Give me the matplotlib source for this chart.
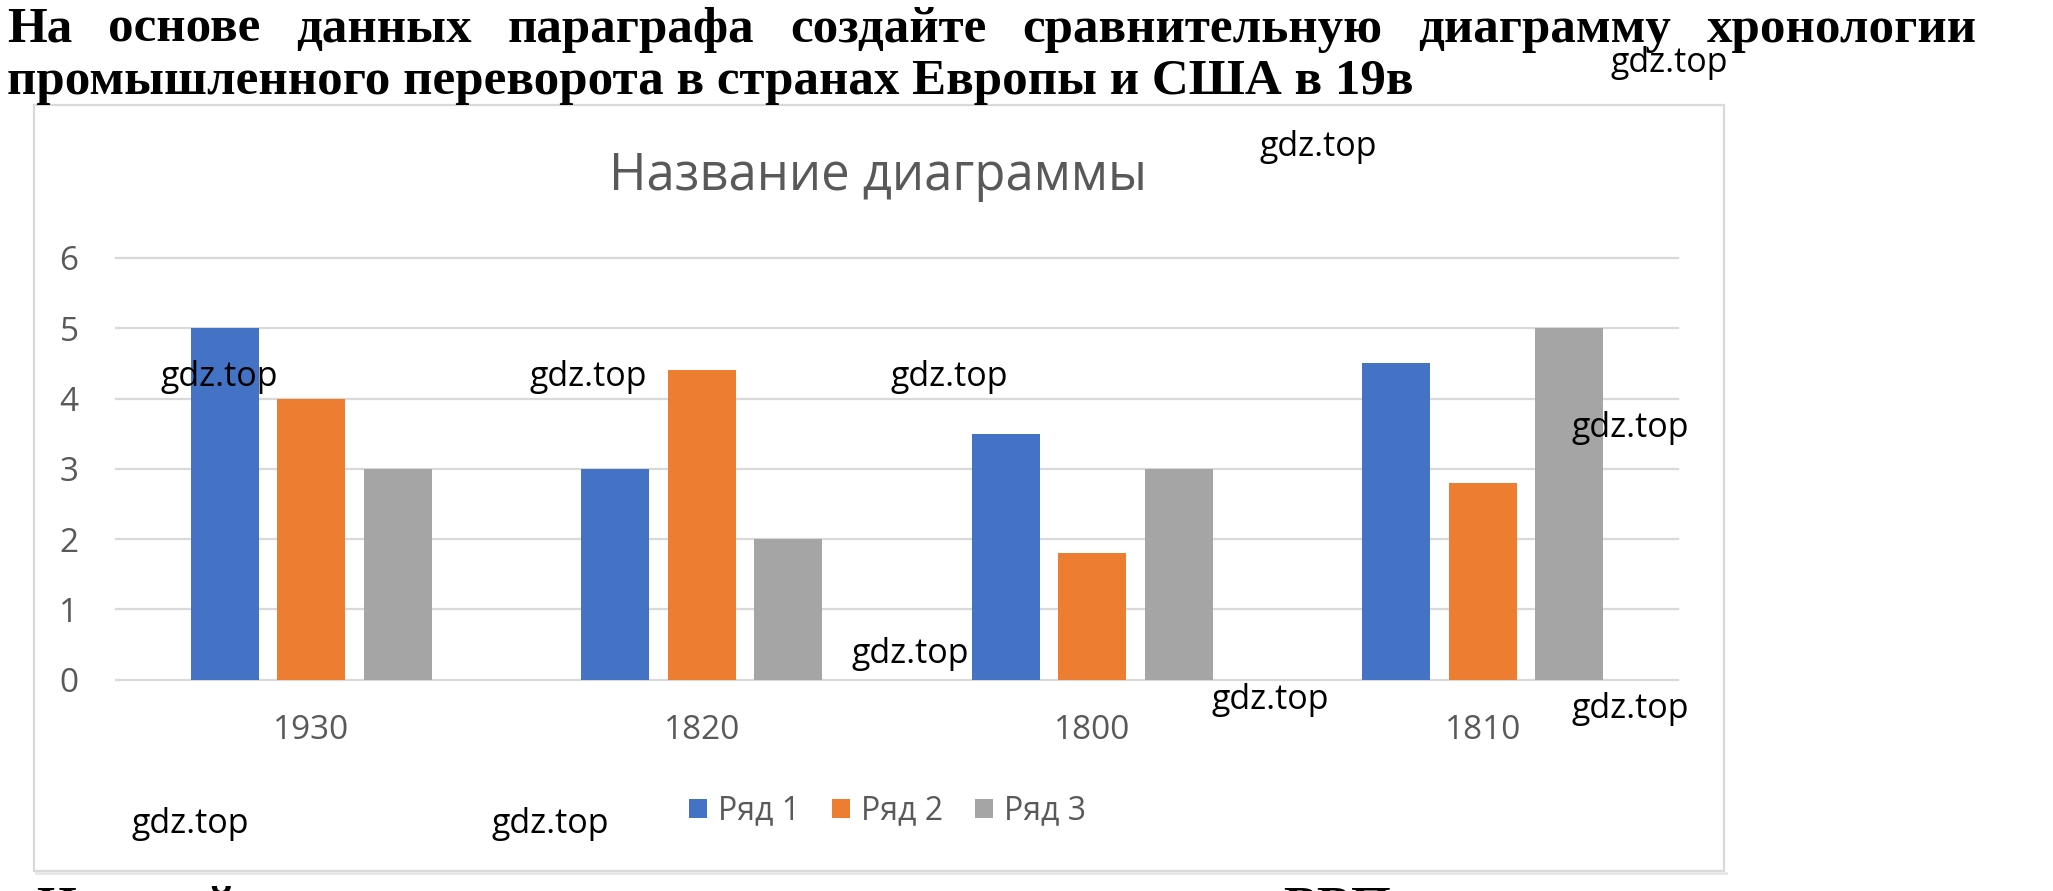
import numpy as np
import matplotlib
matplotlib.use('Agg')
import matplotlib.pyplot as plt
from matplotlib.patches import Rectangle, Patch
from matplotlib.lines import Line2D

# ---- data ----
categories = ['1930', '1820', '1800', '1810']
series_names = ['Ряд 1', 'Ряд 2', 'Ряд 3']
row1 = [5, 3, 3.5, 4.5]
row2 = [4, 4.4, 1.8, 2.8]
row3 = [3, 2, 3, 5]
yticks = [0, 1, 2, 3, 4, 5, 6]
chart_title = 'Название диаграммы'
header_line1 = 'На основе данных параграфа создайте сравнительную диаграмму хронологии'
header_line2 = 'промышленного переворота в странах Европы и США в 19в'
next_line_start = 'Нарисуйте'
next_line_end = 'ВВП'
watermark = 'gdz.top'

colors = ['#4472C4', '#ED7D31', '#A5A5A5']
GRAY = '#595959'
W, H = 2053, 891

fig = plt.figure(figsize=(W / 100, H / 100), dpi=100)
fig.patch.set_facecolor('white')


def fx(x):
    return x / W


def fy(y):
    return 1 - y / H


renderer = fig.canvas.get_renderer()
SERIF = ['Liberation Serif', 'DejaVu Serif']
SANS = ['Open Sans', 'DejaVu Sans']

# ---- header text ----
probe = fig.text(0, 0, header_line2, fontsize=38, family=SERIF, weight='bold')
w2 = probe.get_window_extent(renderer).width
probe.remove()
hsize = 38 * 1404 / w2

fig.text(fx(7), fy(94), header_line2, fontsize=hsize, family=SERIF,
         weight='bold', va='baseline', ha='left')

words = header_line1.split()
wtexts = [fig.text(0, fy(42), w, fontsize=hsize, family=SERIF, weight='bold',
                   va='baseline', ha='left') for w in words]
widths = [t.get_window_extent(renderer).width for t in wtexts]
x_left, x_right = 7, 1977
gap = (x_right - x_left - sum(widths)) / (len(words) - 1)
xpos = x_left
for t, wd in zip(wtexts, widths):
    t.set_x(fx(xpos))
    xpos += wd + gap

# ---- chart frame ----
fig.patches.append(Rectangle((fx(34), fy(871)), fx(1724) - fx(34), fy(105) - fy(871),
                             transform=fig.transFigure, fill=False,
                             edgecolor='#d9d9d9', lw=1.6, zorder=1))
fig.add_artist(Line2D([fx(36), fx(1726)], [fy(873), fy(873)], transform=fig.transFigure,
                      color='#e6e6e6', lw=2.0))

# ---- axes ----
ax = fig.add_axes([fx(116), fy(679.5), fx(1678) - fx(116), fy(258) - fy(679.5)])
ax.set_facecolor('none')
x = np.arange(len(categories))
bar_w = 0.174
step = 0.2213
for i, (vals, name, col) in enumerate(zip([row1, row2, row3], series_names, colors)):
    ax.bar(x + (i - 1) * step, vals, bar_w, color=col, label=name, zorder=3)
ax.set_xlim(-0.5, len(categories) - 0.5)
ax.set_ylim(0, 6)
for yv in yticks:
    ax.axhline(yv, color='#d9d9d9', lw=1.6, zorder=1, clip_on=False)
ax.set_yticks(yticks)
ax.set_xticks(x)
ax.set_xticklabels(categories)
for s in ax.spines.values():
    s.set_visible(False)
ax.tick_params(axis='both', length=0, labelsize=24, colors=GRAY)
ax.tick_params(axis='y', pad=27)
ax.tick_params(axis='x', pad=25)
for lab in ax.get_xticklabels() + ax.get_yticklabels():
    lab.set_family(SANS)

# ---- chart title ----
fig.text(fx(878), fy(177), chart_title, fontsize=36.5, family=SANS, color=GRAY,
         ha='center', va='center')

# ---- legend ----
handles = [Patch(facecolor=c, edgecolor='none') for c in colors]
leg = fig.legend(handles, series_names, loc='center',
                 bbox_to_anchor=(fx(887.5), fy(811)), bbox_transform=fig.transFigure,
                 ncol=3, frameon=False, handlelength=0.55, handleheight=0.55,
                 handletextpad=0.35, columnspacing=1.0,
                 prop={'family': SANS, 'size': 23})
for t in leg.get_texts():
    t.set_color(GRAY)

# ---- watermarks ----
wm_pos = [(1669, 63), (1318, 147), (219, 377), (588, 377), (949, 377), (1630, 428),
          (910, 654), (1270, 700), (1630, 709), (190, 824), (550, 824)]
for (px, py) in wm_pos:
    fig.text(fx(px), fy(py), watermark, fontsize=24.5, family=SANS, color='black',
             ha='center', va='center', zorder=10)

# ---- cut-off next line of the page (only tops visible) ----
fig.text(fx(36), fy(885 + 36), next_line_start, fontsize=hsize, family=SERIF, weight='bold',
         va='baseline', ha='left')
fig.text(fx(1283), fy(885 + 36), next_line_end, fontsize=hsize, family=SERIF, weight='bold',
         va='baseline', ha='left')

fig.savefig('out.png', dpi=100, facecolor='white')
